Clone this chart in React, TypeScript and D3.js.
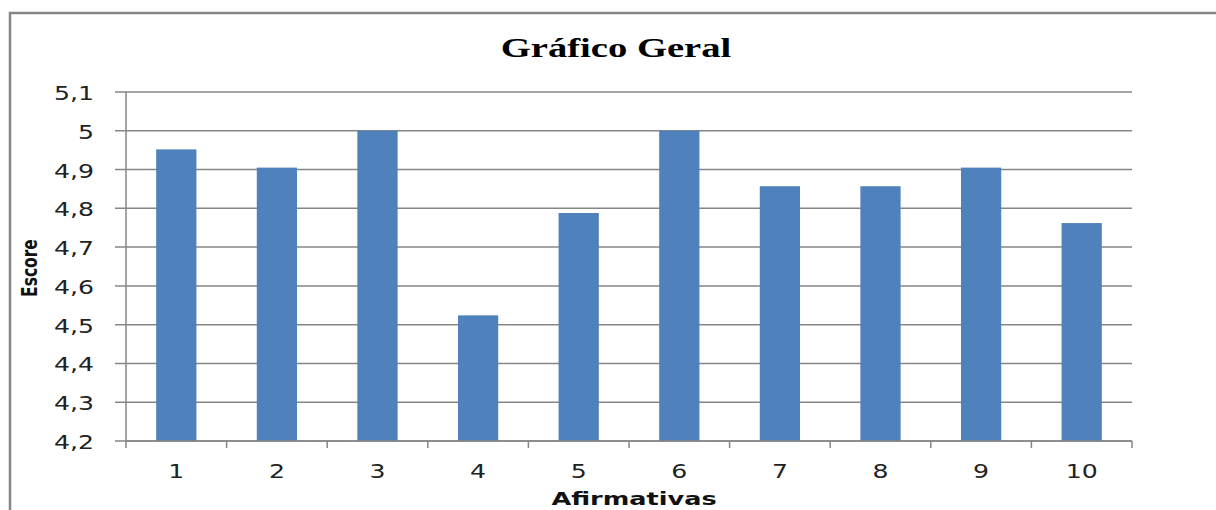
import React from "react";
import * as d3 from "d3";

const categories = ["1", "2", "3", "4", "5", "6", "7", "8", "9", "10"];
const scores = [4.952, 4.905, 5.0, 4.524, 4.788, 5.0, 4.857, 4.857, 4.905, 4.762];
const yTicks = [4.2, 4.3, 4.4, 4.5, 4.6, 4.7, 4.8, 4.9, 5.0, 5.1];
const title = "Gráfico Geral";
const xTitle = "Afirmativas";
const yTitle = "Escore";

const W = 1216;
const H = 510;
const left = 126;
const right = 1132;
const top = 92;
const bottom = 441;
const gray = "#868686";
const barColor = "#4F81BD";
const fmt = (v: number) => (Math.round(v * 10) / 10).toString().replace(".", ",");

export default function App() {
  const x = d3.scaleBand<string>().domain(categories).range([left, right]).paddingInner(0.6).paddingOuter(0.3);
  const xb = d3.scaleBand<string>().domain(categories).range([left, right]);
  const y = d3.scaleLinear().domain([4.2, 5.1]).range([bottom, top]);
  const tickFont = "DejaVu Sans, Verdana, sans-serif";

  return (
    <svg width={W} height={H} style={{ position: "absolute", left: 0, top: 0, background: "#fff" }}>
      <rect x={10} y={13} width={W + 20} height={H + 20} fill="#fff" stroke={gray} strokeWidth={2.5} />
      <g transform="translate(616,57) scale(1.38,1)">
        <text x={0} y={0} textAnchor="middle"
          style={{ fontFamily: "Liberation Serif, Times New Roman, DejaVu Serif, serif", fontWeight: 700, fontSize: 28 }}
          fill="#000">{title}</text>
      </g>

      {yTicks.map((t) => (
        <g key={t}>
          <line x1={115} x2={right} y1={y(t)} y2={y(t)} stroke={gray} strokeWidth={1.5} />
          <g transform={`translate(94,${y(t) + 8}) scale(1.26,1)`}>
            <text x={0} y={0} textAnchor="end" style={{ fontFamily: tickFont, fontSize: 20 }} fill="#222">{fmt(t)}</text>
          </g>
        </g>
      ))}

      {scores.map((v, i) => (
        <rect key={i} x={x(categories[i])} y={y(v)} width={x.bandwidth()} height={bottom - y(v)} fill={barColor} />
      ))}

      <line x1={left} x2={left} y1={top} y2={bottom + 7} stroke={gray} strokeWidth={1.5} />
      <line x1={left} x2={right} y1={bottom} y2={bottom} stroke={gray} strokeWidth={1.5} />
      {categories.map((c) => (
        <line key={"t" + c} x1={(xb(c) as number) + xb.bandwidth()} x2={(xb(c) as number) + xb.bandwidth()}
          y1={bottom} y2={bottom + 7} stroke={gray} strokeWidth={1.5} />
      ))}
      {categories.map((c) => (
        <g key={"l" + c} transform={`translate(${(xb(c) as number) + xb.bandwidth() / 2},478) scale(1.26,1)`}>
          <text x={0} y={0} textAnchor="middle" style={{ fontFamily: tickFont, fontSize: 20 }} fill="#222">{c}</text>
        </g>
      ))}

      <g transform="translate(634,505) scale(1.42,1)">
        <text x={0} y={0} textAnchor="middle" style={{ fontFamily: "DejaVu Sans, sans-serif", fontWeight: 700, fontSize: 18 }}
          fill="#111">{xTitle}</text>
      </g>
      <g transform="translate(37,268) rotate(-90) scale(0.82,1)">
        <text x={0} y={0} textAnchor="middle"
          style={{ fontFamily: "DejaVu Sans Condensed, DejaVu Sans, sans-serif", fontWeight: 700, fontSize: 21 }}
          fill="#111">{yTitle}</text>
      </g>
    </svg>
  );
}
